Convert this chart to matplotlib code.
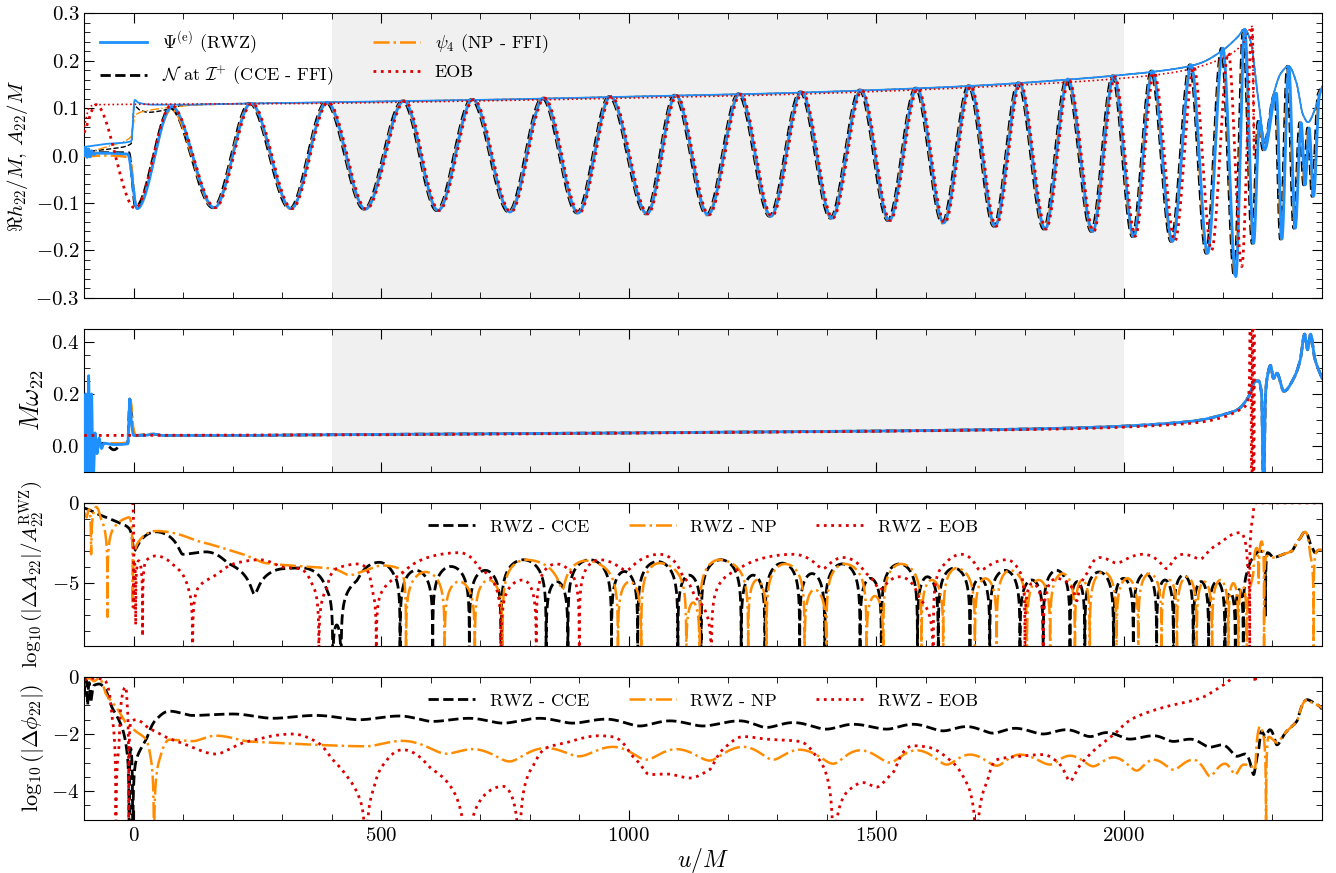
import numpy as np
import matplotlib
matplotlib.use("Agg")
import matplotlib.pyplot as plt
from matplotlib.ticker import MultipleLocator

plt.rcParams['font.family'] = 'serif'
plt.rcParams['font.serif'] = ['cmr10']
plt.rcParams['mathtext.fontset'] = 'cm'
plt.rcParams['axes.formatter.use_mathtext'] = True

# LOW marks a zero crossing of |difference| (log10 -> -inf, below the axes)
LOW = -12.0

# ---- panel 1: Re h22 extrema (u/M, value) ----
rwz_h = np.array([
    (-100, 0.0), (-97, 0.016), (-94, -0.004), (-91, 0.014), (-88, -0.003), (-85, 0.010),
    (-81, 0.002), (-75, 0.005), (-12, 0.003), (7, -0.112), (77, 0.103), (163, -0.110),
    (237, 0.110), (318, -0.112), (391, 0.112), (468, -0.113), (546, 0.115), (615, -0.116),
    (685, 0.118), (760, -0.119), (828, 0.121), (898, -0.121), (963, 0.124), (1037, -0.123),
    (1095, 0.127), (1160, -0.125), (1224, 0.130), (1287, -0.128), (1349, 0.134), (1410, -0.132),
    (1469, 0.138), (1526, -0.137), (1582, 0.142), (1636, -0.142), (1689, 0.147), (1740, -0.149),
    (1789, 0.153), (1841, -0.155), (1887, 0.161), (1937, -0.160), (1980, 0.168), (2020, -0.171),
    (2058, 0.178), (2098, -0.181), (2136, 0.191), (2169, -0.206), (2200, 0.226), (2226, -0.255),
    (2244, 0.266), (2262, -0.185), (2274, 0.072), (2284, 0.012), (2308, 0.131), (2319, -0.176),
    (2333, 0.188), (2346, -0.153), (2358, 0.069), (2366, -0.062), (2374, 0.058), (2383, -0.086),
    (2395, 0.128), (2400, 0.140)])
cce_h_early = np.array([(-100, 0.006), (-10, 0.006), (4, -0.108), (74, 0.100)])
np_h_early = np.array([(-100, -0.002), (-60, 0.0), (-8, -0.004), (6, -0.110), (76, 0.097)])
cce_lead = 3.0
np_lead = 1.0
eob_h = np.array([
    (-100, 0.048), (-76, 0.107), (3, -0.111), (76, 0.106), (165, -0.110), (239, 0.110),
    (320, -0.112), (393, 0.112), (470, -0.113), (548, 0.115), (617, -0.116), (687, 0.118),
    (762, -0.119), (830, 0.121), (900, -0.121), (965, 0.124), (1039, -0.123), (1097, 0.126),
    (1162, -0.125), (1226, 0.129), (1289, -0.128), (1351, 0.133), (1412, -0.132), (1471, 0.137),
    (1528, -0.137), (1584, 0.141), (1638, -0.142), (1691, 0.146), (1742, -0.149), (1791, 0.152),
    (1843, -0.155), (1889, 0.159), (1939, -0.160), (1982, 0.166), (2023, -0.170), (2061, 0.175),
    (2103, -0.180), (2141, 0.187), (2177, -0.200), (2211, 0.216), (2238, -0.234), (2259, 0.272),
    (2263, 0.0)])

# amplitudes A22
amp_tail = np.array([
    (150, 0.108), (400, 0.112), (700, 0.117), (1000, 0.124), (1300, 0.131), (1500, 0.138),
    (1700, 0.147), (1850, 0.157), (2000, 0.170), (2100, 0.182), (2150, 0.193), (2200, 0.222),
    (2230, 0.250), (2244, 0.266), (2256, 0.240), (2270, 0.130), (2285, 0.030), (2300, 0.120),
    (2318, 0.175), (2333, 0.188), (2348, 0.155), (2362, 0.085), (2372, 0.070), (2385, 0.095),
    (2400, 0.145)])
rwz_amp_head = np.array([(-100, 0.018), (-60, 0.024), (-5, 0.030), (2, 0.117), (10, 0.111),
                         (40, 0.107), (100, 0.107)])
cce_amp_head = np.array([(-100, 0.008), (-40, 0.015), (-5, 0.025), (1, 0.105), (12, 0.096),
                         (30, 0.091), (55, 0.094), (90, 0.104), (120, 0.107)])
np_amp_head = np.array([(-100, 0.004), (-50, 0.020), (-5, 0.040), (3, 0.085), (30, 0.095),
                        (80, 0.102), (120, 0.106)])
eob_amp = np.array([
    (-100, 0.060), (-90, 0.100), (-80, 0.107), (300, 0.109), (700, 0.115), (1000, 0.121),
    (1300, 0.128), (1600, 0.139), (1850, 0.152), (2000, 0.163), (2100, 0.175), (2200, 0.205),
    (2240, 0.235), (2259, 0.272), (2263, 0.0)])

# ---- panel 2: M omega22 ----
freq_tail = np.array([
    (20, 0.040), (40, 0.045), (60, 0.040), (200, 0.040), (400, 0.043), (700, 0.046),
    (1000, 0.050), (1300, 0.054), (1600, 0.059), (1750, 0.063), (1900, 0.069), (2000, 0.076),
    (2100, 0.088), (2150, 0.098), (2200, 0.120), (2230, 0.140), (2252, 0.190), (2266, 0.250),
    (2272, 0.250), (2278, 0.200), (2282, -0.200), (2286, 0.200), (2290, 0.270), (2296, 0.310),
    (2302, 0.260), (2309, 0.280), (2323, 0.210), (2343, 0.260), (2356, 0.330), (2365, 0.430),
    (2371, 0.370), (2377, 0.430), (2385, 0.340), (2400, 0.260)])
rwz_freq_head = np.array([
    (-100, -0.2), (-97, 0.20), (-94, -0.2), (-91, 0.27), (-88, -0.2), (-85, 0.20),
    (-82, -0.15), (-78, 0.05), (-74, -0.03), (-70, 0.03), (-65, -0.01), (-60, 0.01),
    (-40, 0.005), (-12, 0.008), (-8, 0.18), (-4, 0.08), (0, 0.04)])
cce_freq_head = np.array([(-100, 0.03), (-80, 0.0), (-60, 0.01), (-40, -0.015), (-20, 0.01),
                          (-12, 0.01), (-8, 0.18), (-3, 0.08), (2, 0.04)])
np_freq_head = np.array([(-100, 0.02), (-60, 0.01), (-12, 0.01), (-6, 0.17), (0, 0.06), (5, 0.04)])
eob_freq = np.array([
    (-100, 0.040), (400, 0.042), (1000, 0.049), (1600, 0.058), (1900, 0.066), (2000, 0.072),
    (2100, 0.082), (2150, 0.090), (2200, 0.110), (2230, 0.135), (2248, 0.160), (2253, 0.220),
    (2256, 0.700), (2258, -0.400), (2260, 0.700), (2262, -0.400), (2264, 0.700)])

# ---- panel 3: log10(|dA22| / A22^RWZ) ----
dA_cce = np.array([
    (-102, -0.3), (-70, -0.73), (-36, -1.15), (-9, -1.6), (0, -3.0), (45, -1.8), (99, -3.2),
    (146, -3.05), (193, -3.8), (244, -5.7), (301, -4.1), (341, -4.05), (392, -5.55), (402, LOW),
    (410, -7.6), (419, LOW), (449, -4.9), (496, -3.7), (528, -4.6), (538, LOW), (570, -4.2),
    (604, LOW), (641, -3.96), (678, LOW), (710, -4.2), (742, LOW), (787, -3.54), (833, LOW),
    (855, -4.9), (877, LOW), (921, -3.54), (965, LOW), (991, -4.27), (1018, LOW), (1058, -3.65),
    (1099, LOW), (1122, -4.5), (1146, LOW), (1186, -3.54), (1227, LOW), (1251, -4.5), (1275, LOW),
    (1310, -3.75), (1345, LOW), (1370, -4.4), (1396, LOW), (1431, -3.8), (1467, LOW), (1488, -4.7),
    (1510, LOW), (1547, -3.8), (1583, LOW), (1603, -4.6), (1625, LOW), (1657, -4.06), (1689, LOW),
    (1709, -4.7), (1729, LOW), (1760, -4.2), (1790, LOW), (1814, -4.8), (1837, LOW), (1864, -4.2),
    (1891, LOW), (1906, -4.9), (1921, LOW), (1950, -4.3), (1979, LOW), (1999, -4.7), (2019, LOW),
    (2043, -4.4), (2066, LOW), (2083, -4.8), (2100, LOW), (2120, -4.5), (2140, LOW), (2156, -4.9),
    (2171, LOW), (2188, -4.9), (2204, LOW), (2215, -5.6), (2225, LOW), (2233, -5.4), (2241, LOW),
    (2248, -4.4), (2261, -3.4), (2275, -3.0), (2283, -3.1), (2286, -7.0), (2290, -3.1),
    (2302, -3.4), (2322, -3.2), (2339, -3.0), (2356, -2.2), (2366, -1.8), (2376, -2.5),
    (2386, -3.1), (2396, -2.9), (2403, -3.1)])
dA_np = np.array([
    (-102, -0.5), (-95, -0.9), (-90, -0.4), (-86, -3.2), (-80, -0.5), (-76, -0.25), (-66, -1.0),
    (-53, -7.1), (-39, -1.5), (-19, -1.0), (-9, -0.9), (-2, -6.5), (8, -2.5), (45, -1.75),
    (132, -2.4), (200, -3.0), (267, -3.75), (335, -3.94), (402, -4.1), (436, -4.5), (469, -4.2),
    (503, -3.9), (537, -4.1), (550, LOW), (590, -4.3), (628, LOW), (657, -4.9), (689, LOW),
    (717, -4.8), (745, LOW), (792, -3.54), (866, -5.4), (913, -3.6), (978, LOW), (1002, -4.9),
    (1025, LOW), (1062, -3.75), (1116, LOW), (1130, -6.2), (1143, LOW), (1183, -3.54), (1241, LOW),
    (1259, -4.8), (1278, LOW), (1316, -3.8), (1355, LOW), (1375, -5.4), (1399, LOW), (1436, -3.8),
    (1480, LOW), (1497, -5.8), (1514, LOW), (1550, -3.8), (1591, LOW), (1612, -4.8), (1635, LOW),
    (1662, -4.06), (1699, LOW), (1720, -4.7), (1743, LOW), (1770, -4.2), (1804, LOW), (1828, -4.8),
    (1851, LOW), (1876, -4.4), (1901, LOW), (1916, -4.8), (1931, LOW), (1958, -4.3), (1985, LOW),
    (2007, -4.7), (2029, LOW), (2052, -4.4), (2076, LOW), (2092, -4.8), (2107, LOW), (2127, -4.6),
    (2147, LOW), (2162, -4.9), (2178, LOW), (2195, -4.8), (2211, LOW), (2221, -5.0), (2231, LOW),
    (2240, -5.2), (2248, LOW), (2254, -5.4), (2261, -4.5), (2268, -2.8), (2272, -5.0),
    (2278, -2.4), (2283, LOW), (2288, -3.3), (2302, -3.4), (2322, -3.2), (2339, -3.0),
    (2356, -2.2), (2366, -1.8), (2376, -3.2), (2383, LOW), (2388, -3.1), (2396, -2.9),
    (2403, -3.1)])
dA_eob = np.array([
    (-102, 0.6), (-3, 0.2), (0, -6.5), (2, -3.8), (4, -7.6), (10, -3.6), (18, -8.3), (25, -3.6),
    (45, -3.3), (85, -4.0), (112, -5.5), (119, LOW), (132, -5.2), (166, -4.5), (213, -3.7),
    (254, -3.54), (301, -4.0), (335, -4.1), (361, -5.1), (374, LOW), (389, -5.4), (409, -4.1),
    (456, -3.8), (483, -5.6), (490, LOW), (500, -5.6), (537, -4.5), (658, -3.1), (700, -4.1),
    (742, LOW), (786, -4.8), (813, LOW), (853, -3.8), (900, LOW), (941, -3.54), (995, -4.2),
    (1062, -3.2), (1110, -4.6), (1135, -5.9), (1167, LOW), (1211, -4.3), (1332, -3.2),
    (1392, -4.1), (1433, -3.4), (1480, -4.4), (1507, -5.4), (1547, -4.6), (1588, -6.0),
    (1615, LOW), (1635, -3.9), (1672, -3.2), (1709, -4.2), (1763, -3.54), (1790, -4.3),
    (1800, LOW), (1815, -5.0), (1837, LOW), (1864, -4.7), (1884, -4.9), (1905, -6.1),
    (1925, -4.4), (1952, -3.4), (1985, -3.75), (2039, -3.2), (2087, -4.1), (2120, -3.2),
    (2154, -3.5), (2194, -2.5), (2235, -1.85), (2250, -4.0), (2254, LOW), (2260, -1.0),
    (2265, 0.0), (2403, 0.0)])

# ---- panel 4: log10(|d phi22|) ----
dphi_cce = np.array([
    (-100, -0.7), (-96, -0.1), (-93, -1.0), (-90, -0.2), (-87, -0.9), (-80, -0.3), (-70, -0.25),
    (-43, -1.1), (-23, -1.8), (-13, -2.7), (-9, LOW), (-6, -2.5), (-2, LOW), (4, -3.0),
    (25, -2.2), (45, -1.5), (72, -1.2), (119, -1.35), (200, -1.3), (281, -1.45), (368, -1.35),
    (456, -1.5), (537, -1.37), (604, -1.56), (678, -1.45), (746, -1.62), (820, -1.45),
    (887, -1.62), (954, -1.48), (1022, -1.72), (1083, -1.54), (1150, -1.72), (1224, -1.54),
    (1278, -1.77), (1332, -1.6), (1399, -1.83), (1453, -1.66), (1521, -1.83), (1574, -1.66),
    (1635, -1.89), (1682, -1.74), (1736, -1.97), (1780, -1.8), (1837, -2.0), (1884, -1.85),
    (1932, -2.09), (1965, -1.95), (2012, -2.18), (2060, -2.06), (2100, -2.26), (2134, -2.18),
    (2174, -2.46), (2198, -2.38), (2228, -2.78), (2245, -2.7), (2262, -3.42), (2272, -2.55),
    (2278, -1.9), (2285, -2.09), (2295, -1.85), (2309, -2.38), (2329, -1.9), (2349, -1.56),
    (2370, -0.8), (2383, -0.9), (2393, -1.0), (2403, -1.2)])
dphi_np = np.array([
    (-100, -0.1), (-90, -0.05), (-80, -0.15), (-70, -0.05), (-56, -0.6), (-36, -1.05),
    (-16, -1.6), (4, -1.9), (25, -2.2), (35, -2.9), (41, LOW), (52, -2.9), (72, -2.2),
    (119, -2.25), (166, -2.06), (233, -2.26), (301, -2.32), (368, -2.38), (469, -2.43),
    (543, -2.24), (631, -2.69), (685, -2.53), (759, -2.96), (833, -2.49), (900, -2.78),
    (968, -2.45), (1035, -2.9), (1096, -2.53), (1163, -2.93), (1231, -2.45), (1291, -2.9),
    (1345, -2.55), (1413, -3.04), (1467, -2.57), (1527, -3.0), (1581, -2.57), (1642, -3.07),
    (1689, -2.72), (1743, -3.11), (1790, -2.72), (1851, -3.07), (1891, -2.76), (1938, -3.13),
    (1979, -2.82), (2026, -3.28), (2060, -2.9), (2100, -3.25), (2140, -2.9), (2174, -3.48),
    (2204, -3.04), (2225, -3.42), (2242, -3.07), (2255, -3.1), (2265, -3.25), (2275, -1.74),
    (2282, -2.09), (2287, LOW), (2292, -2.1), (2309, -2.3), (2329, -1.9), (2349, -1.56),
    (2370, -0.8), (2383, -0.95), (2393, -1.0), (2403, -1.15)])
dphi_eob = np.array([
    (-100, -0.1), (-80, -0.05), (-60, -0.1), (-43, -1.5), (-36, LOW), (-30, -2.5), (-16, -0.35),
    (-13, -1.0), (-10, LOW), (-6, -1.6), (4, -1.5), (31, -1.8), (78, -2.2), (166, -2.7),
    (233, -2.25), (321, -2.0), (368, -2.26), (402, -2.9), (436, -3.6), (459, -4.4), (469, LOW),
    (483, -4.0), (503, -3.1), (543, -2.55), (604, -3.25), (672, LOW), (746, -3.83), (779, LOW),
    (806, -3.13), (833, -2.49), (874, -2.3), (941, -2.06), (968, -2.1), (1008, -2.78),
    (1042, -3.42), (1076, -3.4), (1123, -3.54), (1163, -3.25), (1197, -2.43), (1231, -2.09),
    (1278, -2.18), (1345, -2.26), (1379, -2.78), (1413, LOW), (1446, -3.94), (1473, -3.7),
    (1500, -3.86), (1534, -3.34), (1574, -2.41), (1601, -2.45), (1648, -2.9), (1682, -3.7),
    (1702, LOW), (1723, -3.7), (1743, -2.9), (1790, -2.78), (1837, -2.72), (1864, -2.95),
    (1891, -3.65), (1918, -2.95), (1945, -2.49), (1979, -2.03), (2019, -1.45), (2086, -1.04),
    (2154, -0.75), (2201, -0.29), (2221, 0.0), (2245, 0.4), (2260, 0.6), (2265, -0.2),
    (2270, 0.6), (2403, 1.5)])

BLUE = '#1e90ff'
ORANGE = '#ff8c00'
RED = '#dd0000'
SHADE = '#f0f0f0'


def pchip(x, y, xs):
    # monotone cubic through the nodes (Fritsch-Carlson slopes)
    h = np.diff(x)
    d = np.diff(y) / h
    m = np.zeros_like(y)
    m[0], m[-1] = d[0], d[-1]
    for k in range(1, len(x) - 1):
        if d[k - 1] * d[k] > 0:
            w1 = 2 * h[k] + h[k - 1]
            w2 = h[k] + 2 * h[k - 1]
            m[k] = (w1 + w2) / (w1 / d[k - 1] + w2 / d[k])
    i = np.clip(np.searchsorted(x, xs, side='right') - 1, 0, len(x) - 2)
    s = (xs - x[i]) / h[i]
    return ((2 * s**3 - 3 * s**2 + 1) * y[i] + (s**3 - 2 * s**2 + s) * h[i] * m[i]
            + (-2 * s**3 + 3 * s**2) * y[i + 1] + (s**3 - s**2) * h[i] * m[i + 1])


def curve(nodes, log=False, per_unit=6):
    t = nodes[:, 0].astype(float)
    v = nodes[:, 1].astype(float)
    xs = np.union1d(np.linspace(t[0], t[-1], int((t[-1] - t[0]) * per_unit) + 1), t)
    if log:
        lin = pchip(t, 10.0**v, xs)
        return xs, np.log10(np.clip(lin, 1e-14, None))
    return xs, pchip(t, v, xs)


def shifted(head, nodes, lead, after):
    tail = nodes[nodes[:, 0] > after].copy()
    tail[:, 0] -= lead
    return np.vstack([head, tail])


cce_h = shifted(cce_h_early, rwz_h, cce_lead, 100)
np_h = shifted(np_h_early, rwz_h, np_lead, 100)
rwz_amp = np.vstack([rwz_amp_head, amp_tail])
cce_amp = np.vstack([cce_amp_head, amp_tail[1:]])
np_amp = np.vstack([np_amp_head, amp_tail[1:]])
rwz_freq = np.vstack([rwz_freq_head, freq_tail])
cce_freq = np.vstack([cce_freq_head, freq_tail[1:]])
np_freq = np.vstack([np_freq_head, freq_tail[1:]])

fig = plt.figure(figsize=(13.36, 8.73), dpi=100)
gs = fig.add_gridspec(4, 1, height_ratios=[285, 143, 143, 143], hspace=0.174,
                      left=0.063, right=0.9895, top=0.985, bottom=0.061)
ax1 = fig.add_subplot(gs[0])
ax2 = fig.add_subplot(gs[1], sharex=ax1)
ax3 = fig.add_subplot(gs[2], sharex=ax1)
ax4 = fig.add_subplot(gs[3], sharex=ax1)

# waveform + amplitude
for ax in (ax1, ax2):
    ax.axvspan(400, 2000, color=SHADE, lw=0, zorder=0)
ax1.plot(*curve(cce_h), color='k', ls='--', lw=2.0, zorder=2,
         label=r'$\mathcal{N}$ at $\mathcal{I}^{+}$ (CCE - FFI)')
ax1.plot(*curve(np_h), color=ORANGE, ls='-.', lw=1.8, zorder=3, label=r'$\psi_4$ (NP - FFI)')
ax1.plot(*curve(rwz_h), color=BLUE, ls='-', lw=2.0, zorder=4, label=r'$\Psi^{\rm (e)}$ (RWZ)')
ax1.plot(*curve(eob_h), color=RED, ls=':', lw=2.0, zorder=5, label='EOB')
ax1.plot(*curve(cce_amp), color='k', ls='--', lw=1.0, zorder=2)
ax1.plot(*curve(np_amp), color=ORANGE, ls='-.', lw=1.0, zorder=3)
ax1.plot(*curve(rwz_amp), color=BLUE, ls='-', lw=1.3, zorder=4)
ax1.plot(*curve(eob_amp), color=RED, ls=':', lw=1.2, zorder=5)
h, l = ax1.get_legend_handles_labels()
order = [2, 0, 1, 3]
ax1.legend([h[i] for i in order], [l[i] for i in order], loc='upper left', ncol=2,
           frameon=False, fontsize=13, handlelength=2.6, columnspacing=2.2)
ax1.set_ylim(-0.3, 0.3)
ax1.set_ylabel(r'$\Re h_{22}/M$, $A_{22}/M$', fontsize=15)
ax1.yaxis.set_major_locator(MultipleLocator(0.1))
ax1.yaxis.set_minor_locator(MultipleLocator(0.02))

# frequency
ax2.plot(*curve(cce_freq), color='k', ls='--', lw=2.0, zorder=2)
ax2.plot(*curve(np_freq), color=ORANGE, ls='-.', lw=1.8, zorder=3)
ax2.plot(*curve(rwz_freq), color=BLUE, ls='-', lw=2.0, zorder=4)
ax2.plot(*curve(eob_freq), color=RED, ls=':', lw=2.0, zorder=5)
ax2.set_ylim(-0.1, 0.45)
ax2.set_yticks([0.0, 0.2, 0.4])
ax2.yaxis.set_minor_locator(MultipleLocator(0.05))
ax2.set_ylabel(r'$M\omega_{22}$', fontsize=19)

# amplitude and phase differences
for ax, series in ((ax3, (dA_cce, dA_np, dA_eob)), (ax4, (dphi_cce, dphi_np, dphi_eob))):
    ax.plot(*curve(series[0], log=True), color='k', ls='--', lw=2.0, label='RWZ - CCE')
    ax.plot(*curve(series[1], log=True), color=ORANGE, ls='-.', lw=1.8, label='RWZ - NP')
    ax.plot(*curve(series[2], log=True), color=RED, ls=':', lw=2.0, label='RWZ - EOB')
    ax.legend(loc='upper center', ncol=3, frameon=False, fontsize=13,
              handlelength=2.6, columnspacing=2.2)
ax3.set_ylim(-8.9, 0)
ax3.set_yticks([-5, 0])
ax3.yaxis.set_minor_locator(MultipleLocator(1))
ax3.set_ylabel(r'$\log_{10}(|\Delta A_{22}|/A_{22}^{\rm RWZ})$', fontsize=15)
ax4.set_ylim(-5, 0)
ax4.set_yticks([-4, -2, 0])
ax4.yaxis.set_minor_locator(MultipleLocator(0.5))
ax4.set_ylabel(r'$\log_{10}(|\Delta\phi_{22}|)$', fontsize=16)

ax4.set_xlim(-100, 2400)
ax4.xaxis.set_major_locator(MultipleLocator(500))
ax4.xaxis.set_minor_locator(MultipleLocator(100))
ax4.set_xlabel(r'$u/M$', fontsize=17, labelpad=1)

for ax in (ax1, ax2, ax3, ax4):
    ax.tick_params(which='both', direction='in', top=True, right=True, labelsize=15)
    ax.tick_params(which='major', length=7)
    ax.tick_params(which='minor', length=4)
    if ax is not ax4:
        ax.tick_params(labelbottom=False)
ax4.tick_params(axis='x', pad=5)

fig.savefig('out.png', dpi=100)
